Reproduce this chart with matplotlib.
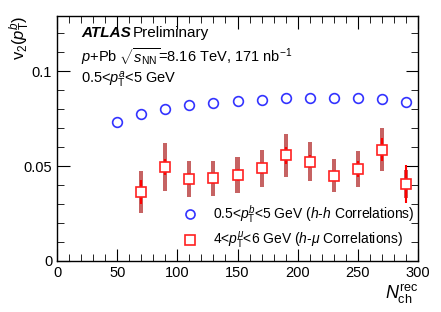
import matplotlib
matplotlib.use("Agg")
import matplotlib.pyplot as plt
from matplotlib.ticker import MultipleLocator
import numpy as np

plt.rcParams['font.family'] = ['Liberation Sans', 'DejaVu Sans']
plt.rcParams['mathtext.fontset'] = 'custom'
plt.rcParams['mathtext.rm'] = 'Liberation Sans'
plt.rcParams['mathtext.it'] = 'Liberation Sans:italic'
plt.rcParams['mathtext.bf'] = 'Liberation Sans:bold'

# h-h correlations
nch_hh = [50, 70, 90, 110, 130, 150, 170, 190, 210, 230, 250, 270, 290]
v2_hh = [0.0733, 0.0774, 0.0798, 0.0821, 0.0833, 0.0844, 0.0849, 0.0856, 0.0860, 0.0860, 0.0858, 0.0851, 0.0835]

# h-mu correlations
nch_hm = [70, 90, 110, 130, 150, 170, 190, 210, 230, 250, 270, 290]
v2_hm = [0.0362, 0.0495, 0.0430, 0.0435, 0.0453, 0.0488, 0.0556, 0.0523, 0.0449, 0.0484, 0.0586, 0.0404]
stat_hm = [0.0064, 0.0044, 0.0032, 0.0030, 0.0030, 0.0030, 0.0045, 0.0035, 0.0020, 0.0040, 0.0060, 0.0100]
syst_lo = [0.0251, 0.0368, 0.0338, 0.0342, 0.0360, 0.0388, 0.0444, 0.0419, 0.0362, 0.0388, 0.0474, 0.0330]
syst_hi = [0.0474, 0.0623, 0.0528, 0.0528, 0.0546, 0.0584, 0.0668, 0.0628, 0.0537, 0.0579, 0.0698, 0.0479]

fig = plt.figure(figsize=(4.41, 3.12), dpi=100)
ax = fig.add_axes([57/441, 1-261/312, (418-57)/441, (261-16)/312])

# systematic bands
for x, lo, hi in zip(nch_hm, syst_lo, syst_hi):
    ax.bar(x, hi - lo, bottom=lo, width=3.4, color='#b83c3c', alpha=0.8, linewidth=0, zorder=2)

ax.errorbar(nch_hm, v2_hm, yerr=stat_hm, fmt='none', ecolor='#ff0000', elinewidth=1.5, capsize=0, zorder=3)
ax.plot(nch_hm, v2_hm, linestyle='none', marker='s', markersize=7, markerfacecolor='white',
        markeredgecolor='#ff2020', markeredgewidth=1.2, zorder=4)
ax.plot(nch_hh, v2_hh, linestyle='none', marker='o', markersize=7, markerfacecolor='none',
        markeredgecolor='#3333ff', markeredgewidth=1.2, zorder=4)

ax.set_xlim(0, 300)
ax.set_ylim(0, 0.129)
ax.xaxis.set_major_locator(MultipleLocator(50))
ax.xaxis.set_minor_locator(MultipleLocator(10))
ax.yaxis.set_major_locator(MultipleLocator(0.05))
ax.yaxis.set_minor_locator(MultipleLocator(0.01))
ax.set_yticks([0, 0.05, 0.1])
ax.set_yticklabels(['0', '0.05', '0.1'])
ax.tick_params(which='both', direction='in', top=True, right=True, labelsize=10.5)
ax.tick_params(which='major', length=9)
ax.tick_params(which='minor', length=5)
for s in ax.spines.values():
    s.set_linewidth(1.0)

ax.set_ylabel(r'v$_2$($p_{\mathrm{T}}^{b}$)', fontsize=12, loc='top')
ax.yaxis.set_label_coords(-0.07, 1.0)
ax.set_xlabel(r'$N_{\mathrm{ch}}^{\mathrm{rec}}$', fontsize=13, loc='right', labelpad=2)

fig.text(81/441, 1-33/312, 'ATLAS', fontsize=11, fontweight='bold', fontstyle='italic', va='center')
fig.text(133/441, 1-33/312, 'Preliminary', fontsize=11, va='center')
fig.text(81/441, 1-57/312, r'$p$+Pb $\sqrt{s_{\mathrm{NN}}}$=8.16 TeV, 171 nb$^{-1}$', fontsize=10.5, va='center')
fig.text(81/441, 1-80/312, r'0.5<$p_{\mathrm{T}}^{a}$<5 GeV', fontsize=10.5, va='center')

# legend
fig.lines.append(plt.Line2D([190/441], [1-214/312], marker='o', markersize=6.5, markerfacecolor='none',
                            markeredgecolor='#3333ff', markeredgewidth=1.2, transform=fig.transFigure, linestyle='none'))
fig.lines.append(plt.Line2D([190/441], [1-240/312], marker='s', markersize=6.5, markerfacecolor='white',
                            markeredgecolor='#ff2020', markeredgewidth=1.2, transform=fig.transFigure, linestyle='none'))
fig.text(213/441, 1-214/312, r'0.5<$p_{\mathrm{T}}^{b}$<5 GeV ($h$-$h$ Correlations)', fontsize=10, va='center')
fig.text(213/441, 1-240/312, r'4<$p_{\mathrm{T}}^{\mu}$<6 GeV ($h$-$\mu$ Correlations)', fontsize=10, va='center')

fig.savefig('out.png', dpi=100)
